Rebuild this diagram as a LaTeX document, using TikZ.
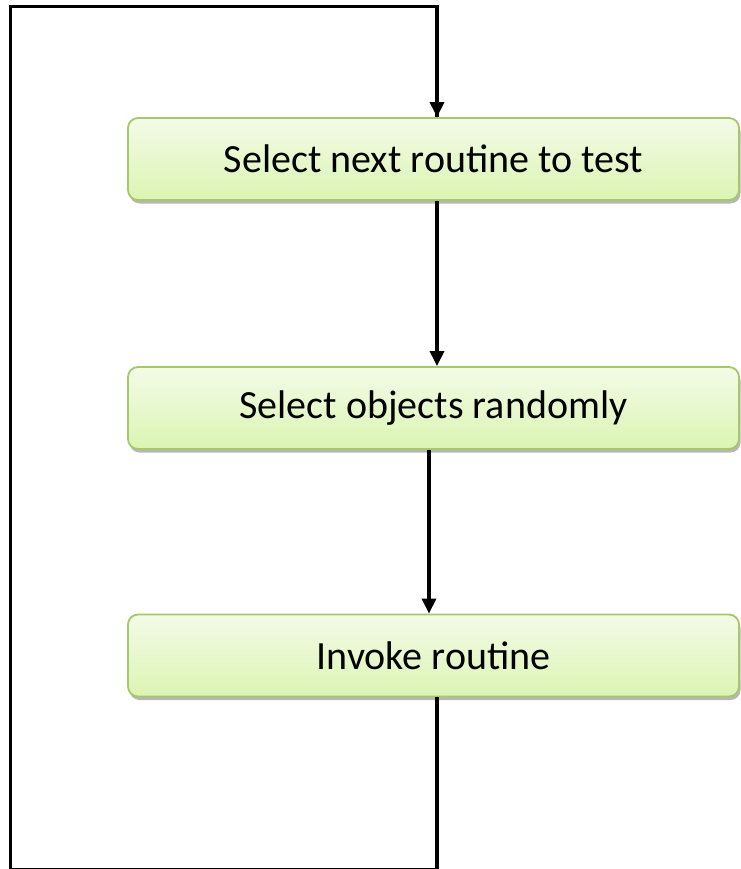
\documentclass[tikz,border=0pt]{standalone}
\usepackage{fontspec}
\setmainfont{Carlito}
\usetikzlibrary{arrows.meta,shadows}
\definecolor{boxtop}{HTML}{F3FBE8}
\definecolor{boxbot}{HTML}{DBF5B2}
\definecolor{boxedge}{HTML}{A5C86A}
\begin{document}
\begin{tikzpicture}[x=1pt,y=-1pt,
  stepbox/.style={draw=boxedge, line width=1.8pt, rounded corners=10pt,
    top color=boxtop, bottom color=boxbot, minimum width=611pt, minimum height=82pt,
    inner sep=0pt, font=\fontsize{40}{48}\selectfont,
    drop shadow={shadow xshift=1.5pt, shadow yshift=-3.5pt, opacity=0.4, fill=black!70}},
  conn/.style={line width=3.3pt, black},
  arr/.style={conn, -{Triangle[width=14pt,length=15pt]}}]
\useasboundingbox (0,0) rectangle (740,869);
\node[stepbox] (b1) at (433.5,159) {Select next routine to test};
\node[stepbox] (b2) at (433.5,408) {Select objects randomly};
\node[stepbox] (b3) at (433.5,655.5) {Invoke routine};
\coordinate (ra) at (437,0);
\coordinate (rb) at (429,0);
\coordinate (tl) at (10.5,6.5);
\coordinate (tr) at (437,6.5);
\coordinate (bl) at (10.5,870);
\coordinate (br) at (437,870);
\draw[arr] (ra |- b1.south) -- (ra |- b2.north);
\draw[arr] (rb |- b2.south) -- (rb |- b3.north);
\draw[conn, line join=miter] (ra |- b3.south) -- (br) -- (bl) -- (tl) -- (tr) -- (tr |- b1.north);
\draw[arr] (tr) -- (ra |- b1.north);
\end{tikzpicture}
\end{document}
